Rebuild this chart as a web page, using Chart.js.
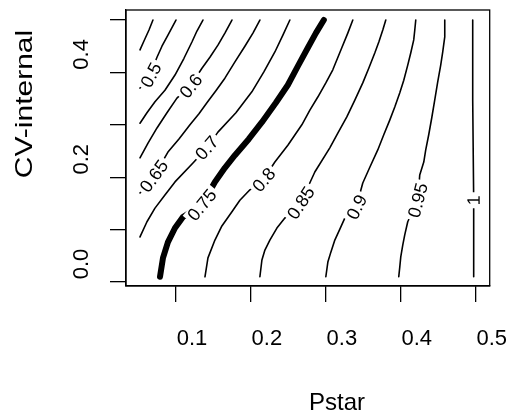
<!DOCTYPE html>
<html>
<head>
<meta charset="utf-8">
<script src="https://cdn.jsdelivr.net/npm/chart.js@4.4.1/dist/chart.umd.min.js"></script>
<style>
  body { margin: 0; background: #fff; }
  canvas { display: block; }
</style>
</head>
<body>
<canvas id="contourChart" width="516" height="418"></canvas>
<script>
// contour paths (x = Pstar, y = CV-internal)
const pstar_045 = [0.0693, 0.064, 0.0573, 0.052];
const cv_045 = [0.5, 0.481, 0.46, 0.443];

const pstar_050 = [0.1, 0.0893, 0.0813, 0.0747, 0.0667, 0.0587, 0.052];
const cv_050 = [0.5, 0.471, 0.45, 0.429, 0.401, 0.384, 0.37];

const pstar_055 = [0.136, 0.128, 0.1213, 0.1107, 0.0987, 0.0853, 0.072, 0.0613, 0.052];
const cv_055 = [0.5, 0.479, 0.458, 0.427, 0.395, 0.366, 0.344, 0.323, 0.303];

const pstar_060 = [0.1747, 0.1653, 0.156, 0.1453, 0.1347, 0.12, 0.1013, 0.088, 0.0747, 0.0627, 0.052];
const cv_060 = [0.5, 0.475, 0.452, 0.429, 0.408, 0.376, 0.351, 0.323, 0.294, 0.265, 0.237];

const pstar_065 = [0.212, 0.2027, 0.192, 0.1787, 0.1653, 0.1533, 0.1413, 0.1307, 0.1187, 0.104, 0.0893, 0.0707, 0.052];
const cv_065 = [0.5, 0.475, 0.45, 0.42, 0.389, 0.365, 0.342, 0.321, 0.3, 0.273, 0.248, 0.202, 0.17];

const pstar_070 = [0.252, 0.2427, 0.232, 0.2173, 0.2013, 0.18, 0.156, 0.1413, 0.1227, 0.0987, 0.0853, 0.072, 0.0613, 0.052];
const cv_070 = [0.5, 0.471, 0.439, 0.401, 0.363, 0.323, 0.286, 0.256, 0.227, 0.191, 0.166, 0.141, 0.115, 0.086];

const pstar_075 = [0.2973, 0.2867, 0.276, 0.2627, 0.2493, 0.2333, 0.2147, 0.1973, 0.1787, 0.1653, 0.152, 0.1347, 0.1093, 0.0987, 0.0893, 0.0827, 0.0787];
const cv_075 = [0.5, 0.475, 0.447, 0.412, 0.376, 0.342, 0.305, 0.273, 0.242, 0.218, 0.191, 0.147, 0.124, 0.103, 0.076, 0.046, 0.01];

const pstar_080 = [0.336, 0.3293, 0.3213, 0.3093, 0.3, 0.2893, 0.2787, 0.268, 0.2493, 0.232, 0.2173, 0.1987, 0.1853, 0.1747, 0.1613, 0.152, 0.1427, 0.1387];
const cv_080 = [0.5, 0.475, 0.447, 0.405, 0.38, 0.353, 0.328, 0.3, 0.261, 0.229, 0.197, 0.176, 0.156, 0.134, 0.107, 0.08, 0.046, 0.01];

const pstar_085 = [0.38, 0.376, 0.3707, 0.3653, 0.3573, 0.3493, 0.3387, 0.328, 0.316, 0.3053, 0.2853, 0.268, 0.2453, 0.2347, 0.2253, 0.2187, 0.2147, 0.212];
const cv_085 = [0.5, 0.481, 0.458, 0.437, 0.408, 0.38, 0.347, 0.315, 0.284, 0.256, 0.21, 0.156, 0.122, 0.103, 0.08, 0.061, 0.042, 0.01];

const pstar_090 = [0.42, 0.4187, 0.4173, 0.4133, 0.4093, 0.404, 0.3987, 0.392, 0.3853, 0.3773, 0.3693, 0.3587, 0.3493, 0.3413, 0.3253, 0.3187, 0.312, 0.3067, 0.3027, 0.3];
const cv_090 = [0.5, 0.481, 0.462, 0.437, 0.414, 0.385, 0.361, 0.334, 0.309, 0.281, 0.252, 0.219, 0.189, 0.147, 0.122, 0.101, 0.08, 0.057, 0.038, 0.01];

const pstar_095 = [0.4587, 0.4587, 0.456, 0.4533, 0.4493, 0.4453, 0.4413, 0.4373, 0.4333, 0.4307, 0.4253, 0.4227, 0.4093, 0.4053, 0.4027, 0.4, 0.3987, 0.3973];
const cv_095 = [0.5, 0.468, 0.439, 0.414, 0.382, 0.347, 0.313, 0.281, 0.252, 0.229, 0.204, 0.156, 0.115, 0.09, 0.071, 0.048, 0.029, 0.01];

const pstar_100 = [0.496, 0.496, 0.4973, 0.4973];
const cv_100 = [0.5, 0.347, 0.156, 0.01];

// contour labels and where they sit on their line
const labelText = ["0.5", "0.6", "0.65", "0.7", "0.75", "0.8", "0.85", "0.9", "0.95", "1"];
const labelPstar = [0.0667, 0.12, 0.0707, 0.1413, 0.1347, 0.2173, 0.2667, 0.3413, 0.4227, 0.4973];
const labelCv = [0.395, 0.374, 0.202, 0.256, 0.147, 0.195, 0.151, 0.143, 0.156, 0.156];

const xTicks = [0.1, 0.2, 0.3, 0.4, 0.5];
const yTicks = [0.0, 0.1, 0.2, 0.3, 0.4, 0.5];
const yTickLabels = ["0.0", "0.2", "0.4"];

const contours = [
  { level: "0.45", xs: pstar_045, ys: cv_045 },
  { level: "0.5", xs: pstar_050, ys: cv_050 },
  { level: "0.55", xs: pstar_055, ys: cv_055 },
  { level: "0.6", xs: pstar_060, ys: cv_060 },
  { level: "0.65", xs: pstar_065, ys: cv_065 },
  { level: "0.7", xs: pstar_070, ys: cv_070 },
  { level: "0.75", xs: pstar_075, ys: cv_075, bold: true },
  { level: "0.8", xs: pstar_080, ys: cv_080 },
  { level: "0.85", xs: pstar_085, ys: cv_085 },
  { level: "0.9", xs: pstar_090, ys: cv_090 },
  { level: "0.95", xs: pstar_095, ys: cv_095 },
  { level: "1", xs: pstar_100, ys: cv_100 },
];

const FONT = '"Liberation Sans", Arial, Helvetica, sans-serif';

const datasets = contours.map((c) => ({
  label: c.level,
  data: c.xs.map((x, i) => ({ x: x, y: c.ys[i] })),
  showLine: true,
  borderColor: "#000",
  borderWidth: c.bold ? 6 : 1.6,
  borderCapStyle: "round",
  borderJoinStyle: "round",
  pointRadius: 0,
  tension: 0,
}));

// labels on the lines, axis labels, titles and the box
const extras = {
  id: "extras",
  afterDatasetsDraw(chart) {
    const ctx = chart.ctx;
    const sx = chart.scales.x;
    const sy = chart.scales.y;
    ctx.save();
    ctx.font = "18px " + FONT;
    ctx.textAlign = "center";
    ctx.textBaseline = "middle";
    labelText.forEach((txt, i) => {
      const px = sx.getPixelForValue(labelPstar[i]);
      const py = sy.getPixelForValue(labelCv[i]);
      const c = contours.find((k) => k.level === txt);
      let best = 0, bestD = Infinity;
      c.xs.forEach((x, j) => {
        const d = Math.hypot(sx.getPixelForValue(x) - px, sy.getPixelForValue(c.ys[j]) - py);
        if (d < bestD) { bestD = d; best = j; }
      });
      const a = Math.max(0, best - 2);
      const b = Math.min(c.xs.length - 1, best + 2);
      let ang = Math.atan2(
        sy.getPixelForValue(c.ys[b]) - sy.getPixelForValue(c.ys[a]),
        sx.getPixelForValue(c.xs[b]) - sx.getPixelForValue(c.xs[a])
      );
      if (ang > 1.4) ang -= Math.PI;
      if (ang < -1.75) ang += Math.PI;
      const w = ctx.measureText(txt).width;
      ctx.save();
      ctx.translate(px, py);
      ctx.rotate(ang);
      ctx.fillStyle = "#fff";
      ctx.fillRect(-w / 2 - 3, -8, w + 6, 16);
      ctx.fillStyle = "#000";
      ctx.fillText(txt, 0, 1);
      ctx.restore();
    });
    ctx.restore();
  },
  afterDraw(chart) {
    const ctx = chart.ctx;
    const area = chart.chartArea;
    const sy = chart.scales.y;
    ctx.save();
    ctx.strokeStyle = "#000";
    ctx.lineWidth = 1.3;
    ctx.strokeRect(area.left, area.top, area.right - area.left, area.bottom - area.top);

    ctx.fillStyle = "#000";
    ctx.textAlign = "center";
    ctx.textBaseline = "middle";
    ctx.font = "22px " + FONT;
    yTickLabels.forEach((t) => {
      const py = sy.getPixelForValue(parseFloat(t)) - 18;
      ctx.save();
      ctx.translate(82, py);
      ctx.rotate(-Math.PI / 2);
      ctx.fillText(t, 0, 0);
      ctx.restore();
    });

    ctx.font = "24px " + FONT;
    ctx.textBaseline = "alphabetic";
    ctx.fillText("Pstar", 337, 410);

    ctx.save();
    ctx.translate(32, 104);
    ctx.rotate(-Math.PI / 2);
    ctx.font = "24px " + FONT;
    ctx.scale(1.25, 1);
    ctx.fillText("CV-internal", 0, 0);
    ctx.restore();
    ctx.restore();
  },
};

new Chart(document.getElementById("contourChart").getContext("2d"), {
  type: "scatter",
  data: { datasets: datasets },
  options: {
    responsive: false,
    animation: false,
    devicePixelRatio: 1,
    layout: { padding: { top: 10, right: 26, left: 0, bottom: 0 } },
    plugins: { legend: { display: false }, tooltip: { enabled: false } },
    scales: {
      x: {
        type: "linear",
        min: 0.03333,
        max: 0.51867,
        afterBuildTicks: (s) => { s.ticks = xTicks.map((v) => ({ value: v })); },
        afterFit: (s) => { s.height = 132; },
        ticks: {
          autoSkip: false,
          maxRotation: 0,
          labelOffset: 16,
          padding: 24,
          color: "#000",
          font: { family: FONT, size: 22 },
          callback: (v) => v.toFixed(1),
        },
        grid: { drawOnChartArea: false, drawTicks: true, tickLength: 16, color: "#000", lineWidth: 1.3 },
        border: { display: true, color: "#000", width: 1.3 },
      },
      y: {
        type: "linear",
        min: -0.00763,
        max: 0.5191,
        afterBuildTicks: (s) => { s.ticks = yTicks.map((v) => ({ value: v })); },
        afterFit: (s) => { s.width = 126; },
        ticks: { display: false },
        grid: { drawOnChartArea: false, drawTicks: true, tickLength: 16, color: "#000", lineWidth: 1.3 },
        border: { display: true, color: "#000", width: 1.3 },
      },
    },
  },
  plugins: [extras],
});
</script>
</body>
</html>
